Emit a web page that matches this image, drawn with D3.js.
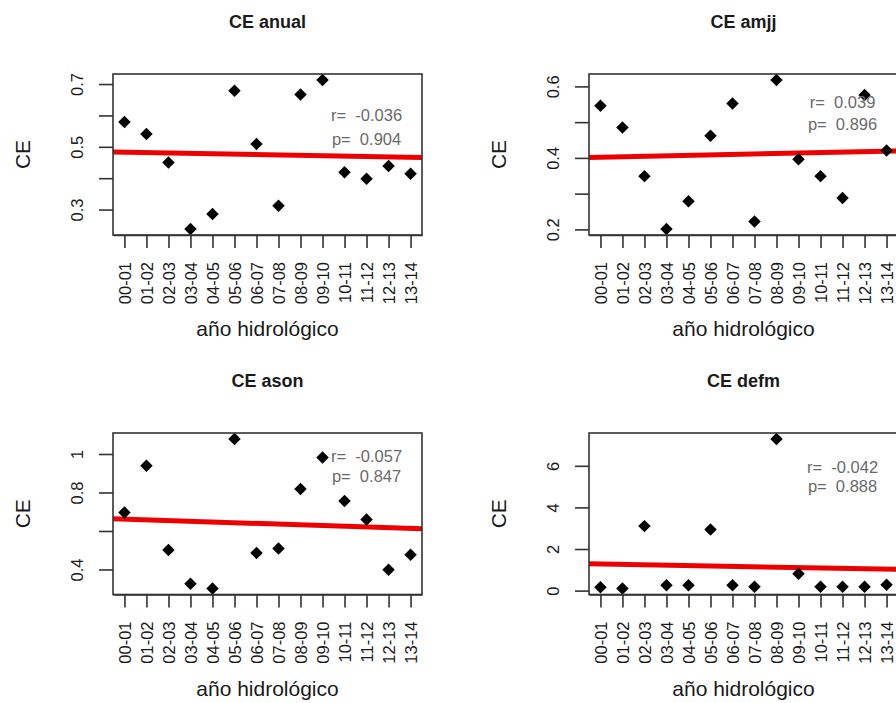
<!DOCTYPE html>
<html>
<head>
<meta charset="utf-8">
<script src="https://cdn.jsdelivr.net/npm/d3@7"></script>
<style>
  html, body { margin: 0; padding: 0; background: #ffffff; }
  svg { display: block; font-family: "Liberation Sans", Arial, sans-serif; }
</style>
</head>
<body>
<svg id="chart" width="896" height="703"></svg>
<script>
// Hydrological years on the x axis
const years = ["00-01", "01-02", "02-03", "03-04", "04-05", "05-06", "06-07",
               "07-08", "08-09", "09-10", "10-11", "11-12", "12-13", "13-14"];

// CE series, one per period
const ceAnual = [0.579, 0.541, 0.450, 0.238, 0.286, 0.679, 0.509, 0.312, 0.667, 0.713, 0.419, 0.398, 0.439, 0.414];
const ceAmjj  = [0.546, 0.485, 0.349, 0.201, 0.279, 0.462, 0.552, 0.222, 0.618, 0.396, 0.349, 0.288, 0.576, 0.421];
const ceAson  = [0.696, 0.939, 0.501, 0.326, 0.301, 1.078, 0.485, 0.509, 0.818, 0.982, 0.756, 0.660, 0.398, 0.476];
const ceDefm  = [0.165, 0.100, 3.100, 0.260, 0.260, 2.940, 0.260, 0.180, 7.290, 0.810, 0.180, 0.180, 0.180, 0.280];

const panelTitles = ["CE anual", "CE amjj", "CE ason", "CE defm"];

// Correlation and p-value annotations
const rLabels = ["-0.036", "0.039", "-0.057", "-0.042"];
const pLabels = ["0.904", "0.896", "0.847", "0.888"];

// Y tick values and their labels (blank where the label is suppressed)
const yTickValues = [[0.3, 0.4, 0.5, 0.6, 0.7], [0.2, 0.3, 0.4, 0.5, 0.6], [0.4, 0.6, 0.8, 1.0], [0, 2, 4, 6]];
const yTickLabels = [["0.3", "", "0.5", "", "0.7"], ["0.2", "", "0.4", "", "0.6"], ["0.4", "", "0.8", "1"], ["0", "2", "4", "6"]];

const xLabel = "año hidrológico";
const yLabel = "CE";

const series = [ceAnual, ceAmjj, ceAson, ceDefm];

// Plot-box geometry for the 2x2 grid and where the r/p note sits (data units)
const layout = [
  { x0: 113, x1: 422, y0: 74,  y1: 235,   noteAt: "11-12", rY: 0.601, pY: 0.525 },
  { x0: 589, x1: 898, y0: 74,  y1: 235,   noteAt: "11-12", rY: 0.556, pY: 0.495 },
  { x0: 113, x1: 422, y0: 433, y1: 594.5, noteAt: "11-12", rY: 0.986, pY: 0.887 },
  { x0: 589, x1: 898, y0: 433, y1: 594.5, noteAt: "11-12", rY: 5.94,  pY: 5.02 }
];

const svg = d3.select("#chart");
const ink = "#1a1a1a";

// Filled diamond (square turned 45 degrees)
const diamond = {
  draw(ctx, size) {
    const r = Math.sqrt(size / 2);
    ctx.moveTo(0, -r);
    ctx.lineTo(r, 0);
    ctx.lineTo(0, r);
    ctx.lineTo(-r, 0);
    ctx.closePath();
  }
};

series.forEach((values, i) => {
  const L = layout[i];
  const g = svg.append("g");

  const x = d3.scalePoint().domain(years).range([L.x0, L.x1]).padding(0.52);
  const [lo, hi] = d3.extent(values);
  const pad = (hi - lo) * 0.04;
  const y = d3.scaleLinear().domain([lo - pad, hi + pad]).range([L.y1, L.y0]);

  const clipId = "clip" + i;
  svg.append("clipPath").attr("id", clipId)
    .append("rect").attr("x", L.x0).attr("y", L.y0)
    .attr("width", L.x1 - L.x0).attr("height", L.y1 - L.y0);

  // Least-squares trend line across the whole plot box
  const idx = values.map((_, k) => k + 1);
  const mx = d3.mean(idx), my = d3.mean(values);
  const sxy = d3.sum(idx, (v, k) => (v - mx) * (values[k] - my));
  const sxx = d3.sum(idx, v => (v - mx) * (v - mx));
  const slope = sxy / sxx, icpt = my - slope * mx;
  const step = x.step();
  const xFirst = x(years[0]);
  const toIdx = px => 1 + (px - xFirst) / step;
  const lineEnds = [L.x0 - 2, L.x1 + 2].map(px => [px, y(icpt + slope * toIdx(px))]);
  g.append("path")
    .attr("clip-path", `url(#${clipId})`)
    .attr("d", d3.line()(lineEnds))
    .attr("fill", "none")
    .attr("stroke", "#ee0000")
    .attr("stroke-width", 5);

  // Points
  g.append("g").selectAll("path")
    .data(values)
    .join("path")
    .attr("transform", (d, k) => `translate(${x(years[k])},${y(d)})`)
    .attr("d", d3.symbol().type(diamond).size(78))
    .attr("fill", "#000");

  // Plot box
  g.append("rect")
    .attr("x", L.x0).attr("y", L.y0)
    .attr("width", L.x1 - L.x0).attr("height", L.y1 - L.y0)
    .attr("fill", "none").attr("stroke", "#333").attr("stroke-width", 1.6);

  // X axis with vertical tick labels
  const xAxis = g.append("g")
    .attr("transform", `translate(0,${L.y1})`)
    .call(d3.axisBottom(x).tickSize(13).tickSizeOuter(0));
  xAxis.select(".domain").attr("stroke", "#333").attr("stroke-width", 1.6);
  xAxis.selectAll(".tick line").attr("stroke", "#333").attr("stroke-width", 1.6);
  xAxis.selectAll(".tick text")
    .attr("transform", "rotate(-90)")
    .attr("text-anchor", "end")
    .attr("x", -27).attr("y", 0).attr("dy", "0.35em")
    .attr("font-size", 16.5).attr("fill", ink)
    .attr("font-family", "Liberation Sans, Arial, sans-serif");

  // Y axis with vertical tick labels
  const labels = yTickLabels[i];
  const tv = yTickValues[i];
  const yAxis = g.append("g")
    .attr("transform", `translate(${L.x0},0)`)
    .call(d3.axisLeft(y).tickValues(tv).tickSize(14).tickSizeOuter(0)
      .tickFormat((d, k) => labels[k]));
  yAxis.select(".domain").remove();
  yAxis.selectAll(".tick line").attr("stroke", "#333").attr("stroke-width", 1.6);
  yAxis.selectAll(".tick text")
    .attr("transform", "rotate(-90)")
    .attr("text-anchor", "middle")
    .attr("x", 0).attr("y", -30).attr("dy", 0)
    .attr("font-size", 16.5).attr("fill", ink)
    .attr("font-family", "Liberation Sans, Arial, sans-serif");

  // Title
  g.append("text")
    .attr("x", (L.x0 + L.x1) / 2).attr("y", L.y0 - 46)
    .attr("text-anchor", "middle")
    .attr("font-size", 18).attr("font-weight", "bold").attr("fill", ink)
    .text(panelTitles[i]);

  // Axis titles
  g.append("text")
    .attr("x", (L.x0 + L.x1) / 2).attr("y", L.y1 + 101)
    .attr("text-anchor", "middle")
    .attr("font-size", 21).attr("fill", ink)
    .text(xLabel);
  g.append("text")
    .attr("transform", `translate(${L.x0 - 83},${(L.y0 + L.y1) / 2}) rotate(-90)`)
    .attr("text-anchor", "middle")
    .attr("font-size", 21).attr("fill", ink)
    .text(yLabel);

  // r / p note
  const noteX = x(L.noteAt);
  [["r=", rLabels[i], L.rY], ["p=", pLabels[i], L.pY]].forEach(([lab, val, yy]) => {
    g.append("text")
      .attr("x", noteX).attr("y", y(yy)).attr("dy", "0.35em")
      .attr("text-anchor", "middle")
      .attr("font-size", 16.5).attr("fill", "#6a6a6a")
      .style("white-space", "pre")
      .text(lab + "  " + val);
  });
});
</script>
</body>
</html>
